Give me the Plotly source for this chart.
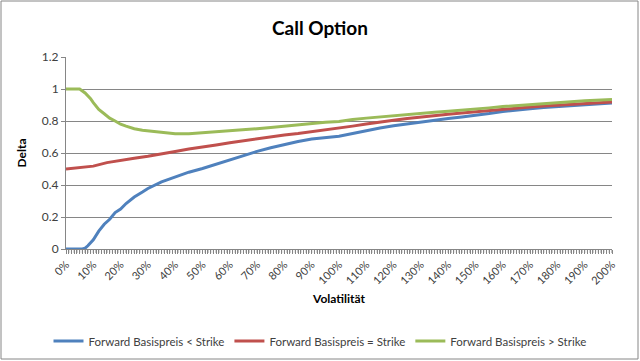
import plotly.graph_objects as go

# Volatility (%) and Delta values
vol_below = [0, 6, 7, 8, 10, 12, 14, 16, 18, 20, 22, 25, 28, 30, 35, 40, 45, 50, 55, 60, 65, 70, 75, 80, 85, 90, 95,
             100, 105, 110, 115, 120, 125, 130, 135, 140, 145, 150, 155, 160, 165, 170, 175, 180, 185, 190, 195, 200]
delta_below = [0, 0, 0.005, 0.02, 0.058, 0.112, 0.155, 0.186, 0.228, 0.25, 0.284, 0.325, 0.356, 0.378, 0.42, 0.45,
               0.48, 0.503, 0.53, 0.56, 0.583, 0.61, 0.633, 0.653, 0.672, 0.688, 0.697,
               0.705, 0.722, 0.74, 0.756, 0.77, 0.782, 0.795, 0.805, 0.815, 0.825, 0.835, 0.847, 0.86, 0.866,
               0.876, 0.884, 0.89, 0.897, 0.903, 0.908, 0.912]

vol_equal = [0, 5, 10, 15, 20, 25, 30, 35, 40, 45, 50, 55, 60, 65, 70, 75, 80, 85, 90, 95,
             100, 105, 110, 115, 120, 125, 130, 135, 140, 145, 150, 155, 160, 165, 170, 175, 180, 185, 190, 195, 200]
delta_equal = [0.5, 0.507, 0.518, 0.54, 0.555, 0.567, 0.58, 0.597, 0.61, 0.625, 0.636, 0.65, 0.664, 0.677, 0.69,
               0.702, 0.713, 0.722, 0.733, 0.745, 0.754, 0.768, 0.781, 0.795, 0.805, 0.815, 0.825, 0.834, 0.842,
               0.85, 0.858, 0.866, 0.875, 0.882, 0.888, 0.894, 0.899, 0.904, 0.909, 0.914, 0.918]

vol_above = [0, 5, 7, 9, 10, 12, 14, 16, 18, 20, 22, 25, 28, 30, 35, 40, 45, 50, 55, 60, 65, 70, 75, 80, 85, 90, 95,
             100, 105, 110, 115, 120, 125, 130, 135, 140, 145, 150, 155, 160, 165, 170, 175, 180, 185, 190, 195, 200]
delta_above = [1.0, 1.0, 0.975, 0.94, 0.915, 0.872, 0.845, 0.818, 0.8, 0.78, 0.768, 0.752, 0.742, 0.738, 0.727,
               0.72, 0.72, 0.726, 0.731, 0.737, 0.743, 0.752, 0.76, 0.768, 0.774, 0.786, 0.792,
               0.797, 0.81, 0.818, 0.826, 0.834, 0.841, 0.849, 0.855, 0.861, 0.867, 0.874, 0.882, 0.89, 0.897,
               0.904, 0.91, 0.916, 0.921, 0.926, 0.931, 0.935]

series_names = ["Forward Basispreis < Strike", "Forward Basispreis = Strike", "Forward Basispreis > Strike"]

# one category tick per 1 %, labelled every 10 %
x_tick_values = list(range(0, 201))
x_tick_labels = [f"{v}%" if v % 10 == 0 else "" for v in x_tick_values]

colors = ["#4F81BD", "#C0504D", "#9BBB59"]
FONT = "Lato"
GRID = "#868686"

fig = go.Figure()
for xs, ys, name, c in zip([vol_below, vol_equal, vol_above],
                           [delta_below, delta_equal, delta_above],
                           series_names, colors):
    fig.add_trace(go.Scatter(x=xs, y=ys, name=name, mode="lines",
                             line=dict(color=c, width=3)))

L, R, T, B = 66, 28, 57, 112
W, H = 640, 361
pw, ph = W - L - R, H - T - B
TICKLEN = 4

fig.update_layout(
    width=W, height=H,
    margin=dict(l=L, r=R, t=T, b=B),
    paper_bgcolor="white", plot_bgcolor="white",
    font=dict(family=FONT, color="#404040", size=11),
    title=dict(text="<b>Call Option</b>", x=0.5, xref="container", xanchor="center",
               y=1 - 28 / H, yref="container", yanchor="middle",
               font=dict(family=FONT, size=19, color="#000000")),
    showlegend=True,
    legend=dict(orientation="h", x=0.5, xref="container", xanchor="center",
                y=1 - 341 / H, yref="container", yanchor="middle",
                font=dict(family=FONT, size=11.5, color="#404040"),
                itemwidth=30, tracegroupgap=0),
    xaxis=dict(range=[0, 200], tickmode="array", tickvals=x_tick_values, ticktext=x_tick_labels,
               tickangle=-45, ticks="outside", ticklen=TICKLEN, tickcolor=GRID, tickwidth=1,
               showline=True, linecolor=GRID, linewidth=1, showgrid=False, zeroline=False,
               tickfont=dict(family=FONT, size=11, color="#404040"),
               title=dict(text="<b>Volatilität</b>", font=dict(family=FONT, size=12, color="#000000"),
                          standoff=8)),
    yaxis=dict(range=[0, 1.2], dtick=0.2, tick0=0, ticks="outside", ticklen=TICKLEN, tickcolor=GRID,
               showline=True, linecolor=GRID, linewidth=1, showgrid=True, gridcolor=GRID, gridwidth=1,
               zeroline=False, tickfont=dict(family=FONT, size=12, color="#404040"),
               title=dict(text="<b>Delta</b>", font=dict(family=FONT, size=12, color="#000000"),
                          standoff=12)),
)

# dense category tick marks under the x axis (positioned through the x scale)
for v in x_tick_values:
    fig.add_shape(type="line", xref="x", yref="paper", x0=v, x1=v, y0=0, y1=-TICKLEN / ph,
                  line=dict(color=GRID, width=1))

# outer chart border
fig.add_shape(type="rect", xref="paper", yref="paper",
              x0=(1 - L) / pw, x1=(638 - L) / pw,
              y0=(H - B - 359) / ph, y1=(H - B - 1) / ph,
              line=dict(color=GRID, width=1), fillcolor="rgba(0,0,0,0)", layer="below")

fig.write_html("out.html", config={"displayModeBar": False},
               post_script="document.body.style.margin='0';document.body.style.overflow='hidden';")
